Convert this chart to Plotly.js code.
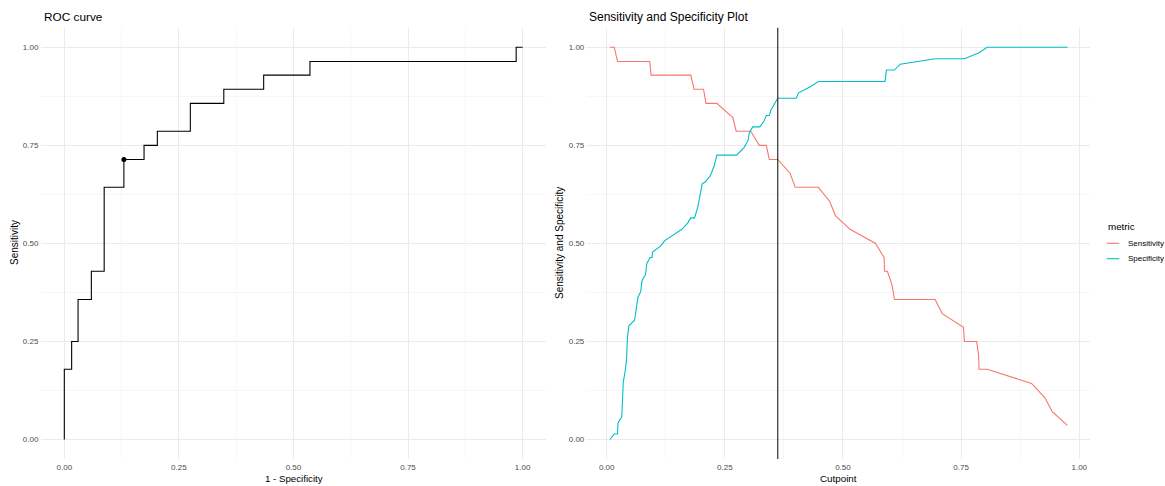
<!DOCTYPE html>
<html>
<head>
<meta charset="utf-8">
<script src="https://cdn.plot.ly/plotly-3.0.1.min.js"></script>
<style>html,body{margin:0;padding:0;background:#fff;}#chart{width:1165px;height:486px;}</style>
</head>
<body>
<div id="chart"></div>
<script>
// ROC curve (1 - specificity, sensitivity) step points
const fpr = [0, 0, 0.016, 0.030, 0.059, 0.087, 0.130, 0.174, 0.203, 0.275, 0.348, 0.435, 0.536, 0.986, 1.0];
const tpr = [0, 0.179, 0.250, 0.357, 0.429, 0.643, 0.714, 0.750, 0.786, 0.857, 0.893, 0.929, 0.964, 1.000, 1.000];
const optFpr = [0.130];
const optTpr = [0.714];

// Sensitivity vs cutpoint
const cutSens = [0.007, 0.016, 0.023, 0.091, 0.094, 0.178, 0.185, 0.205, 0.210, 0.233, 0.267, 0.274, 0.305, 0.323, 0.338, 0.344, 0.362, 0.388, 0.399, 0.448, 0.472, 0.484, 0.515, 0.569, 0.587, 0.588, 0.594, 0.604, 0.609, 0.695, 0.710, 0.755, 0.757, 0.783, 0.787, 0.788, 0.805, 0.899, 0.927, 0.943, 0.975];
const sensitivity = [1.000, 1.000, 0.964, 0.964, 0.929, 0.929, 0.893, 0.893, 0.857, 0.857, 0.821, 0.786, 0.786, 0.750, 0.750, 0.714, 0.714, 0.679, 0.643, 0.643, 0.607, 0.571, 0.536, 0.500, 0.464, 0.429, 0.429, 0.393, 0.357, 0.357, 0.321, 0.286, 0.250, 0.250, 0.214, 0.179, 0.179, 0.143, 0.107, 0.071, 0.036];

// Specificity vs cutpoint
const cutSpec = [0.007, 0.016, 0.023, 0.024, 0.032, 0.035, 0.039, 0.042, 0.044, 0.047, 0.059, 0.063, 0.066, 0.072, 0.075, 0.082, 0.085, 0.092, 0.096, 0.097, 0.114, 0.123, 0.159, 0.171, 0.178, 0.186, 0.193, 0.202, 0.209, 0.219, 0.227, 0.233, 0.275, 0.291, 0.299, 0.302, 0.309, 0.324, 0.333, 0.338, 0.344, 0.348, 0.362, 0.401, 0.406, 0.430, 0.448, 0.589, 0.592, 0.609, 0.621, 0.695, 0.757, 0.788, 0.805, 0.975];
const specificity = [0.000, 0.014, 0.014, 0.043, 0.058, 0.145, 0.174, 0.203, 0.261, 0.290, 0.304, 0.333, 0.362, 0.377, 0.406, 0.420, 0.449, 0.464, 0.464, 0.478, 0.493, 0.507, 0.536, 0.551, 0.565, 0.565, 0.594, 0.652, 0.657, 0.672, 0.696, 0.725, 0.725, 0.745, 0.762, 0.783, 0.797, 0.797, 0.812, 0.826, 0.826, 0.841, 0.870, 0.870, 0.884, 0.899, 0.913, 0.913, 0.942, 0.942, 0.957, 0.971, 0.971, 0.986, 1.000, 1.000];

const optimalCutpoint = 0.362;
const tickVals = [0, 0.25, 0.5, 0.75, 1.0];
const tickText = ["0.00", "0.25", "0.50", "0.75", "1.00"];
const metricNames = ["Sensitivity", "Specificity"];
const metricColors = ["#F8766D", "#00BFC4"];

const W = 1165, H = 486;
const FONT = "Liberation Sans, Arial, sans-serif";
const px = v => v / W;
const py = v => 1 - v / H;

const traces = [
  {x: fpr, y: tpr, type: 'scatter', mode: 'lines', line: {shape: 'hv', color: '#000000', width: 1.1}, xaxis: 'x', yaxis: 'y', showlegend: false, hoverinfo: 'skip'},
  {x: optFpr, y: optTpr, type: 'scatter', mode: 'markers', marker: {color: '#000000', size: 5}, xaxis: 'x', yaxis: 'y', showlegend: false},
  {x: cutSens, y: sensitivity, type: 'scatter', mode: 'lines', name: metricNames[0], line: {color: metricColors[0], width: 1.1}, xaxis: 'x2', yaxis: 'y2', showlegend: false},
  {x: cutSpec, y: specificity, type: 'scatter', mode: 'lines', name: metricNames[1], line: {color: metricColors[1], width: 1.1}, xaxis: 'x2', yaxis: 'y2', showlegend: false}
];

function axis(domain, range, anchor) {
  return {
    domain: domain, range: range, anchor: anchor,
    tickvals: tickVals, ticktext: tickText,
    showgrid: true, gridcolor: '#EBEBEB', gridwidth: 1,
    minor: {dtick: 0.125, tick0: 0, showgrid: true, gridcolor: '#F2F2F2', gridwidth: 0.6},
    zeroline: false, showline: false, ticks: '',
    tickfont: {family: FONT, size: 8, color: '#4D4D4D'},
    ticklabelstandoff: 2
  };
}

const yDom = [(H - 459.1) / H, (H - 27.7) / H];
const fontTxt = (s) => ({family: FONT, size: s, color: '#000'});

// manual legend (ggplot style)
const legendShapes = metricNames.map((n, i) => ({
  type: 'line', xref: 'paper', yref: 'paper',
  x0: px(1106.7), x1: px(1119.3), y0: py(243.3 + i * 15.4), y1: py(243.3 + i * 15.4),
  line: {color: metricColors[i], width: 1.1}
}));
const legendTexts = metricNames.map((n, i) => ({
  text: n, xref: 'paper', yref: 'paper', x: px(1126), y: py(243.3 + i * 15.4),
  xanchor: 'left', yanchor: 'middle', showarrow: false, font: fontTxt(8)
}));

const layout = {
  width: W, height: H,
  margin: {l: 0, r: 0, t: 0, b: 0},
  paper_bgcolor: '#FFFFFF', plot_bgcolor: '#FFFFFF',
  font: {family: FONT},
  showlegend: false,
  xaxis: axis([px(41.4), px(545.5)], [-0.05, 1.05], 'y'),
  yaxis: axis(yDom, [-0.05, 1.05], 'x'),
  xaxis2: axis([px(587.3), px(1090)], [-0.041, 1.0227], 'y2'),
  yaxis2: axis(yDom, [-0.05, 1.05], 'x2'),
  shapes: [
    {type: 'line', xref: 'x2', yref: 'y2 domain', x0: optimalCutpoint, x1: optimalCutpoint, y0: 0, y1: 1, line: {color: '#1a1a1a', width: 1.1}}
  ].concat(legendShapes),
  annotations: [
    {text: 'ROC curve', xref: 'paper', yref: 'paper', x: px(41.5), y: py(16.7), xanchor: 'left', yanchor: 'middle', showarrow: false, font: fontTxt(11.8)},
    {text: 'Sensitivity and Specificity Plot', xref: 'paper', yref: 'paper', x: px(586.7), y: py(16.7), xanchor: 'left', yanchor: 'middle', showarrow: false, font: fontTxt(12)},
    {text: '1 - Specificity', xref: 'paper', yref: 'paper', x: px(294), y: py(478.3), xanchor: 'center', yanchor: 'middle', showarrow: false, font: fontTxt(9.7)},
    {text: 'Cutpoint', xref: 'paper', yref: 'paper', x: px(838.6), y: py(478.3), xanchor: 'center', yanchor: 'middle', showarrow: false, font: fontTxt(9.8)},
    {text: 'Sensitivity', xref: 'paper', yref: 'paper', x: px(14), y: py(243), xanchor: 'center', yanchor: 'middle', textangle: -90, showarrow: false, font: fontTxt(10)},
    {text: 'Sensitivity and Specificity', xref: 'paper', yref: 'paper', x: px(559), y: py(243), xanchor: 'center', yanchor: 'middle', textangle: -90, showarrow: false, font: fontTxt(10)},
    {text: 'metric', xref: 'paper', yref: 'paper', x: px(1105.7), y: py(226), xanchor: 'left', yanchor: 'middle', showarrow: false, font: fontTxt(9.8)}
  ].concat(legendTexts)
};

Plotly.newPlot('chart', traces, layout, {displayModeBar: false, staticPlot: true});
</script>
</body>
</html>
